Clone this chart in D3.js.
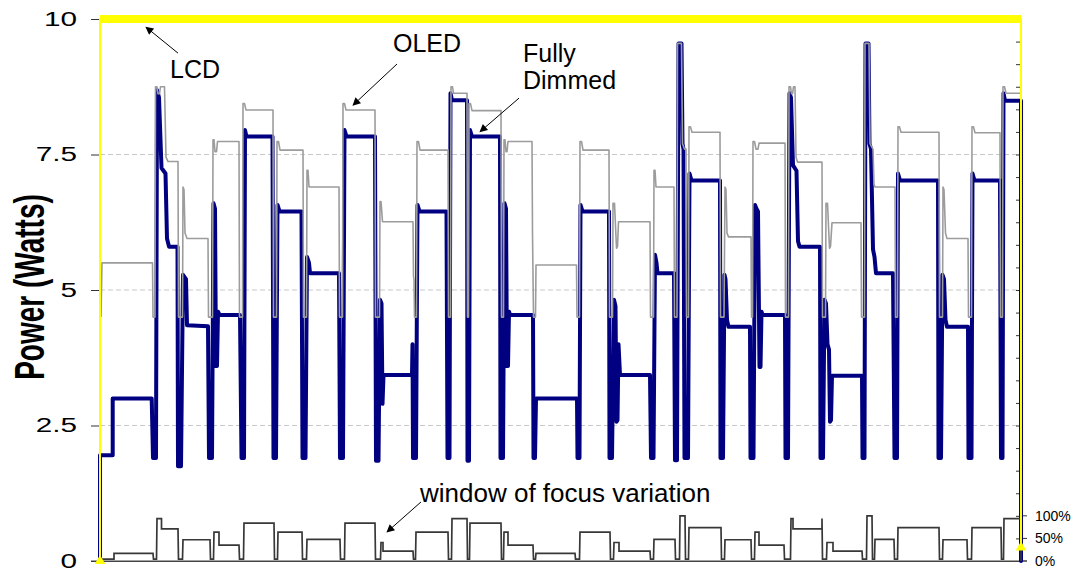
<!DOCTYPE html>
<html>
<head>
<meta charset="utf-8">
<script src="https://cdn.jsdelivr.net/npm/d3@7"></script>
<style>
  body { margin: 0; background: #fff; }
  svg { display: block; }
  text { font-family: "Liberation Sans", Arial, sans-serif; fill: #000; }
</style>
</head>
<body>
<svg id="chart" width="1073" height="572"></svg>
<script>
// time (s) / power (W) breakpoints
const dimmed = [
  [0,0],[0,1.95],[12.7,1.95],[12.7,3.0],[51.7,3.0],[53,1.9],[56,1.9],
  [57,8.69],[59,8.55],[61.5,7.25],[65.5,7.15],[67,5.95],[69,5.8],[77.5,5.8],[78,1.75],[81,1.75],
  [83,5.28],[86,5.2],[87,4.35],[108,4.33],[109,1.9],[112,1.9],
  [113.5,6.6],[115,6.5],[116,3.6],[117,3.6],[118,4.6],[119.5,4.54],[140,4.54],[141.5,1.9],[144,1.9],
  [145,7.95],[146.5,7.83],[172.5,7.83],[173.5,1.9],[176,1.9],
  [177.5,6.57],[179.5,6.45],[201.5,6.45],[202.5,1.9],[205.5,1.9],
  [207,5.61],[209,5.5],[210,5.31],[239,5.31],[240,1.9],[243,1.9],
  [244.5,7.95],[246.5,7.83],[275,7.83],[276,1.85],[278.5,1.85],
  [280,4.82],[281.5,4.75],[282.5,2.9],[283.5,3.43],[312,3.43],[312.5,4.0],[313,1.9],[316,1.9],
  [317.5,6.57],[319.5,6.45],[346.5,6.45],[347.5,1.9],[349.5,1.9],
  [350.5,8.63],[352,8.5],[367,8.5],[367.5,1.85],[369,1.85],
  [370,7.95],[372,7.83],[400,7.83],[400.5,1.9],[403,1.9],
  [404.5,6.6],[406,6.5],[407,3.6],[408,3.6],[409,4.6],[410,4.54],[433,4.54],[433.5,1.9],[435,1.9],
  [436,3.0],[437,3.0],[477,3.0],[477.5,1.9],[479.5,1.9],
  [480.5,6.57],[482.5,6.45],[509,6.45],[509.5,1.9],[512,1.9],
  [514,4.82],[515.5,4.7],[516.5,2.57],[517.5,2.6],[518.5,4.0],[520,3.43],[550,3.43],[551,1.9],[553.5,1.9],
  [555,5.65],[556.5,5.5],[557.5,5.31],[574,5.31],[575,1.86],[577,1.86],
  [578.5,9.55],[581.5,9.55],[582.5,7.7],[583.5,7.6],[584.5,1.9],[588,1.9],
  [589.5,7.15],[591.5,7.02],[620,7.02],[620.5,1.9],[623,1.9],
  [624.5,5.28],[625.5,5.2],[627,4.45],[628.5,4.32],[650,4.32],[650.5,1.9],[653.5,1.9],
  [655,6.57],[656.5,6.5],[658,6.45],[659.5,3.58],[660.5,3.58],[661.5,4.6],[662.5,4.54],[685,4.54],[685.5,1.9],[688,1.9],
  [689.5,8.63],[691,8.55],[693,7.3],[696.5,7.2],[698,5.9],[699.5,5.8],[720,5.8],[720.5,1.9],[723,1.9],
  [724.5,4.82],[726,4.75],[727.5,4.0],[729,3.9],[730,2.57],[731,2.6],[732,3.42],[762,3.42],[762.5,1.9],[764.5,1.9],
  [765.5,9.55],[768.5,9.55],[769.5,7.7],[771,7.6],[773,5.75],[774.5,5.61],[776,5.31],[793,5.31],[794.5,1.9],[797,1.9],
  [798,7.15],[800,7.02],[838,7.02],[838.5,1.9],[841,1.9],
  [842.5,5.28],[844,5.2],[845.5,4.45],[847,4.32],[868,4.32],[868.5,1.9],[871.5,1.9],
  [872.5,7.15],[874.5,7.02],[900,7.02],[901,1.9],[902.5,1.9],
  [903.5,8.63],[905,8.49],[921,8.49],[921,0]
];

const oled = [
  [1,4.5],[2,5.5],[52.5,5.5],[53,4.5],[55,4.5],
  [55.5,8.75],[57,8.75],[58,8.62],[59.5,8.62],[60.5,8.75],[64.5,8.75],[66,7.45],[68,7.37],[78,7.37],[78.5,4.5],[82.5,4.5],
  [83,6.9],[84,6.85],[85,6.05],[87,5.95],[108,5.95],[108.5,4.5],[112.5,4.5],
  [113,7.77],[114,7.77],[115,7.55],[116.5,7.55],[117.5,7.74],[139,7.74],[139.5,4.5],[142.5,4.5],
  [143,8.44],[144.5,8.44],[146,8.32],[173,8.32],[173.5,4.5],[176.5,4.5],
  [177,7.74],[178.5,7.74],[180,7.58],[203,7.58],[203.5,4.5],[206.5,4.5],
  [207,7.21],[208,7.21],[209,6.9],[239,6.9],[239.5,4.5],[242.5,4.5],
  [243,8.44],[244.5,8.44],[246,8.32],[275,8.32],[275.5,4.5],[279.5,4.5],
  [280,6.63],[281,6.63],[282.5,6.26],[313,6.26],[313.5,5.25],[314,5.2],[314.5,4.5],[316.5,4.5],
  [317,7.74],[318.5,7.74],[320,7.58],[348,7.58],[348.5,4.5],[350.5,4.5],
  [351,8.75],[352.5,8.75],[353.5,8.63],[367,8.63],[367.5,4.5],[368.5,4.5],
  [369,8.44],[370.5,8.44],[372,8.31],[401,8.31],[401.5,4.5],[403.5,4.5],
  [404,7.77],[405,7.77],[406,7.55],[407,7.55],[408,7.74],[432,7.74],[432.5,6.05],[433.5,4.5],[435.5,4.5],
  [436,5.46],[476.5,5.46],[477,4.5],[479.5,4.5],
  [480,7.74],[481.5,7.74],[483,7.58],[509,7.58],[509.5,4.5],[512.5,4.5],
  [513,6.6],[514.5,6.6],[516.5,5.77],[517.5,5.8],[518.5,6.26],[550,6.26],[550.5,4.5],[553.5,4.5],
  [554,7.21],[555,7.21],[556,6.9],[574,6.9],[574.5,4.5],[577,4.5],
  [577.5,9.55],[581.5,9.55],[582.5,7.7],[584.5,7.6],[586,7.6],[586.5,4.5],[588.5,4.5],
  [589,8.01],[590.5,8.01],[592,7.91],[620,7.91],[620.5,4.5],[624,4.5],
  [625,6.9],[626,6.85],[627,6.05],[628.5,5.98],[651,5.98],[651.5,4.5],[652.5,4.5],
  [653,7.74],[654.5,7.74],[656,7.6],[658,7.6],[659,7.71],[685,7.71],[685.5,4.5],[688.5,4.5],
  [689,8.75],[690.5,8.75],[691.5,8.62],[692.5,8.62],[693.5,8.75],[695,8.75],[696,7.45],[697.5,7.36],[722,7.36],[722.5,4.5],[725.5,4.5],
  [726,6.6],[727.5,6.6],[729.5,5.77],[730.5,5.8],[732,6.24],[761,6.24],[761.5,4.5],[764.5,4.5],
  [765,9.55],[769,9.55],[770,7.7],[773,7.6],[774,6.95],[775,6.9],[795,6.9],[795.5,4.5],[797.5,4.5],
  [798,8.01],[799.5,8.01],[801,7.91],[839,7.91],[839.5,4.5],[842.5,4.5],
  [843,6.9],[844,6.85],[845.5,6.05],[847,5.95],[868,5.95],[868.5,4.5],[871.5,4.5],
  [872,8.01],[873.5,8.01],[875,7.9],[900,7.9],[900.5,4.5],[902.5,4.5],
  [903,8.75],[904.5,8.75],[906,8.63],[921,8.63]
];

// window of focus variation, percent
const focus = [
  [0,4],[14,4],[14,17],[53,17],[53.5,4],[56.5,4],[57,94],[61.5,94],[61.5,71],[78,71],[78.5,4],[82.5,4],
  [83,47],[110,47],[110.5,4],[113.5,4],[114,64],[119,64],[119,35],[139,35],[139.5,4],[143.5,4],
  [144,84],[174,84],[174.5,4],[177.5,4],[178,64],[202,64],[202.5,4],[206.5,4],[207,48],[240,48],[240.5,4],[244.5,4],
  [245,84],[275,84],[275.5,4],[280.5,4],[281,41],[283,41],[283,22],[313,22],[313.5,4],[315.5,4],
  [316,64],[348,64],[348.5,4],[351.5,4],[352,94],[367,94],[367.5,4],[369.5,4],[370,84],[401,84],[401.5,4],[403.5,4],
  [404,64],[408,64],[408,35],[433,35],[433.5,4],[435.5,4],[436,17],[475,17],[475.5,4],[479.5,4],
  [480,64],[510,64],[510.5,4],[513.5,4],[514,41],[519,41],[519,22],[550,22],[550.5,4],[553.5,4],
  [554,48],[575,48],[575.5,4],[579.5,4],[580,100],[585,100],[585.5,4],[588.5,4],[589,74],[621,74],[621.5,4],[624.5,4],
  [625,47],[651,47],[651.5,4],[654.5,4],[655,64],[659,64],[659,35],[684,35],[684.5,4],[690.5,4],
  [691,94],[693,94],[693,71],[722,71],[722,94],[722.5,4],[726.5,4],[727,41],[733,41],[733,22],[762,22],[762.5,4],[766.5,4],
  [767,100],[772,100],[772.5,4],[774.5,4],[775,48],[794,48],[794.5,4],[797.5,4],[798,74],[839,74],[839.5,4],[842.5,4],
  [843,47],[867,47],[867.5,4],[871.5,4],[872,74],[901,74],[901.5,4],[903.5,4],[904,94],[921,94],[921,136],[921,0]
];

const lcd = [[0,0],[0,10],[921,10],[921,0.25]];

const powerTicks = [0, 2.5, 5, 7.5, 10];
const powerLabels = ["0", "2.5", "5", "7.5", "10"];
const pctTicks = d3.range(0, 1201, 50);
const pctLabelled = [0, 50, 100];

// annotations: text anchor and arrow (tail -> tip), in data units
const notes = [
  { lines: ["LCD"], at: [70, 8.91], tail: [78, 9.37], tip: [46, 9.85] },
  { lines: ["OLED"], at: [293, 9.39], tail: [297, 9.17], tip: [253, 8.41] },
  { lines: ["Fully", "Dimmed"], at: [423, 9.21], tail: [419, 8.54], tip: [380, 7.92] },
  { lines: ["window of focus variation"], at: [320, 1.08], tail: [321, 1.09], tip: [287, 0.535] }
];

const svg = d3.select("#chart");
const x = d3.scaleLinear().domain([0, 921]).range([100, 1021]);
const y = d3.scaleLinear().domain([0, 10]).range([561, 19]);
const yPct = d3.scaleLinear().domain([0, 1200]).range([561, 19]);

svg.append("defs").append("marker")
  .attr("id", "arrow").attr("viewBox", "0 0 10 10")
  .attr("refX", 9).attr("refY", 5)
  .attr("markerWidth", 10).attr("markerHeight", 8)
  .attr("markerUnits", "userSpaceOnUse")
  .attr("orient", "auto")
  .append("path").attr("d", "M0,0L10,5L0,10Z").attr("fill", "#000");

// grid
svg.append("g").selectAll("line")
  .data(powerTicks.filter(d => d > 0 && d < 10))
  .enter().append("line")
  .attr("x1", x(0)).attr("x2", x(921))
  .attr("y1", d => y(d)).attr("y2", d => y(d))
  .attr("stroke", "#c8c8c8").attr("stroke-dasharray", "5,3");

// left axis
const gl = svg.append("g").attr("transform", `translate(${x(0)},0)`)
  .call(d3.axisLeft(y).tickValues(powerTicks).tickSize(9).tickSizeOuter(0)
    .tickFormat((d, i) => powerLabels[i]));
gl.select(".domain").attr("stroke", "#333");
gl.selectAll(".tick line").attr("stroke", "#333");
gl.selectAll(".tick text")
  .attr("x", 0).attr("dy", "0.3em")
  .attr("transform", "translate(-23,0) scale(1.45,1)")
  .style("font-size", "20.5px").style("font-family", "'Liberation Sans', Arial, sans-serif")
  .attr("fill", "#000");

// right (percent) axis
const gr = svg.append("g").attr("transform", `translate(${x(921)},0)`)
  .call(d3.axisLeft(yPct).tickValues(pctTicks).tickSize(5).tickSizeOuter(0).tickFormat(""));
gr.select(".domain").attr("stroke", "#333");
gr.selectAll(".tick line").attr("stroke", "#333");
const lab = svg.append("g").selectAll("g").data(pctLabelled).enter().append("g")
  .attr("transform", d => `translate(${x(921)},${yPct(d)})`);
lab.append("line").attr("x1", 0).attr("x2", 6).attr("stroke", "#333");
lab.append("text").attr("x", 14).attr("dy", "0.36em")
  .style("font-size", "14px").text(d => d + "%");

// bottom axis
svg.append("g").attr("transform", `translate(0,${y(0)})`)
  .call(d3.axisBottom(x).tickValues([]).tickSizeOuter(0))
  .select(".domain").attr("stroke", "#444");
svg.append("line").attr("x1", x(0) - 9).attr("x2", x(921) + 6)
  .attr("y1", y(0)).attr("y2", y(0)).attr("stroke", "#444");

// y title
svg.append("text")
  .attr("transform", `translate(29,${y(5) - 3}) scale(1.5,1) rotate(-90)`)
  .attr("text-anchor", "middle").attr("dy", "0.36em")
  .style("font-size", "28px").style("font-weight", "bold")
  .text("Power (Watts)");

const line = d3.line().x(d => x(d[0])).y(d => y(d[1]));
const linePct = d3.line().x(d => x(d[0])).y(d => yPct(d[1]));

svg.append("path").datum(dimmed).attr("d", line)
  .attr("fill", "none").attr("stroke", "#000080").attr("stroke-width", 4)
  .attr("stroke-linejoin", "round").attr("stroke-linecap", "round");

svg.append("path").datum(oled).attr("d", line)
  .attr("fill", "none").attr("stroke", "#9c9c9c").attr("stroke-width", 1.6)
  .attr("stroke-linejoin", "round");

svg.append("path").datum(focus).attr("d", linePct)
  .attr("fill", "none").attr("stroke", "#383838").attr("stroke-width", 1.7);

svg.append("path").datum(lcd).attr("d", line)
  .attr("fill", "none").attr("stroke", "#ffff00").attr("stroke-width", 2);
svg.append("path").datum(lcd.slice(1, 3)).attr("d", line)
  .attr("fill", "none").attr("stroke", "#ffff00").attr("stroke-width", 8);
svg.append("g").selectAll("path").data([lcd[0], lcd[lcd.length - 1]]).enter().append("path")
  .attr("transform", d => `translate(${x(d[0])},${y(d[1])})`)
  .attr("d", d3.symbol(d3.symbolTriangle, 48))
  .attr("fill", "#ffff00");

// annotations
const ann = svg.append("g");
notes.forEach(n => {
  ann.append("line")
    .attr("x1", x(n.tail[0])).attr("y1", y(n.tail[1]))
    .attr("x2", x(n.tip[0])).attr("y2", y(n.tip[1]))
    .attr("stroke", "#000").attr("stroke-width", 1)
    .attr("marker-end", "url(#arrow)");
  const t = ann.append("text").attr("x", x(n.at[0])).attr("y", y(n.at[1]))
    .style("font-size", n.lines[0].length > 10 ? "26px" : "25px");
  n.lines.forEach((s, i) => t.append("tspan").attr("x", x(n.at[0])).attr("dy", i ? "1.1em" : 0).text(s));
});
</script>
</body>
</html>
